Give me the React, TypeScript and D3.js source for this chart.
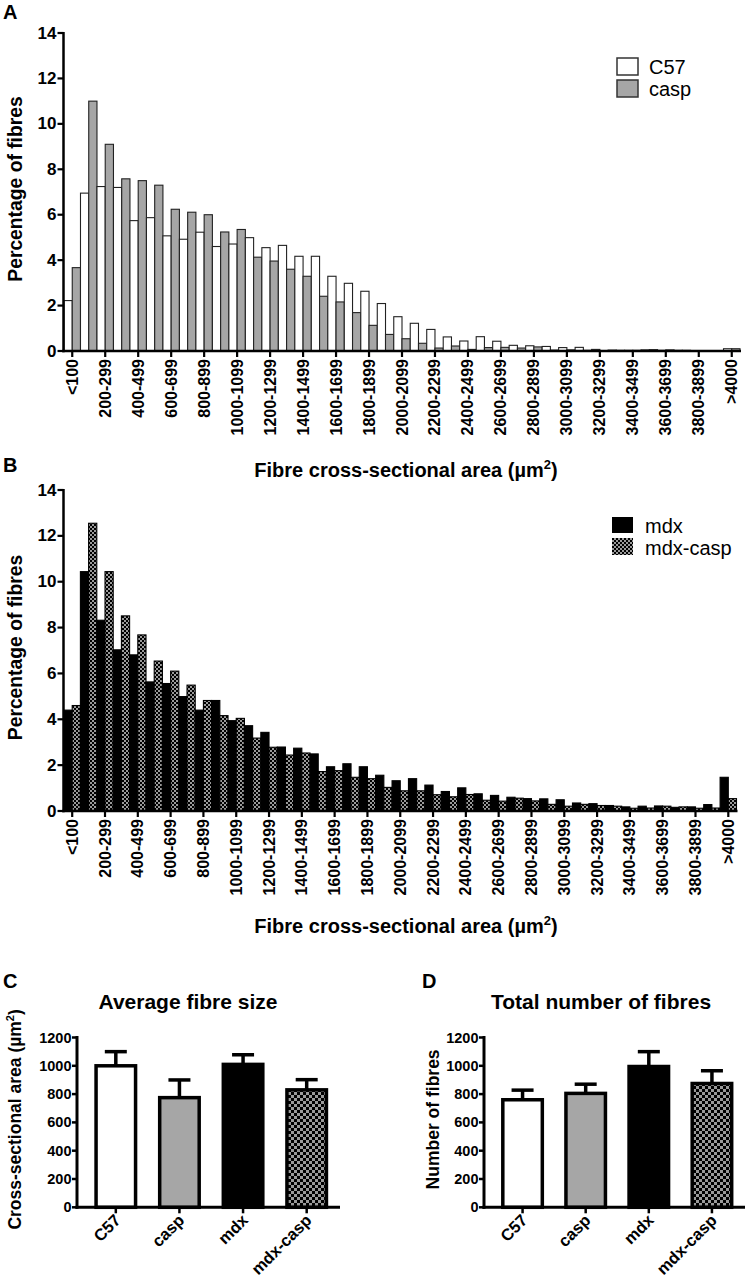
import React from "react";
import * as d3 from "d3";

const FONT = "'Liberation Sans', Arial, Helvetica, sans-serif";

// ---------- data ----------
const binLabels = [
  "<100", "100-199", "200-299", "300-399", "400-499", "500-599", "600-699", "700-799",
  "800-899", "900-999", "1000-1099", "1100-1199", "1200-1299", "1300-1399", "1400-1499",
  "1500-1599", "1600-1699", "1700-1799", "1800-1899", "1900-1999", "2000-2099", "2100-2199",
  "2200-2299", "2300-2399", "2400-2499", "2500-2599", "2600-2699", "2700-2799", "2800-2899",
  "2900-2999", "3000-3099", "3100-3199", "3200-3299", "3300-3399", "3400-3499", "3500-3599",
  "3600-3699", "3700-3799", "3800-3899", "3900-3999", ">4000",
];

const c57Pct = [
  2.22, 6.95, 7.24, 7.2, 5.74, 5.87, 5.07, 4.92, 5.23, 4.6, 4.71, 4.99, 4.55, 4.65, 4.17,
  4.17, 3.29, 2.98, 2.63, 2.09, 1.51, 1.22, 0.95, 0.62, 0.44, 0.63, 0.43, 0.25, 0.23, 0.2,
  0.15, 0.16, 0.07, 0.04, 0.03, 0.05, 0.03, 0.03, 0.02, 0.02, 0.1,
];
const caspPct = [
  3.67, 11.0, 9.1, 7.58, 7.5, 7.3, 6.24, 6.11, 6.0, 5.24, 5.35, 4.13, 3.96, 3.6, 3.29,
  2.41, 2.16, 1.69, 1.13, 0.73, 0.54, 0.34, 0.13, 0.22, 0.07, 0.15, 0.16, 0.13, 0.18, 0.04,
  0.05, 0.03, 0.02, 0.03, 0.03, 0.06, 0.05, 0.03, 0.02, 0.02, 0.1,
];
const mdxPct = [
  4.4, 10.44, 8.32, 7.03, 6.81, 5.63, 5.56, 4.99, 4.4, 4.82, 3.94, 3.72, 3.43, 2.79, 2.74,
  2.49, 1.93, 2.06, 1.93, 1.56, 1.32, 1.41, 1.13, 0.85, 1.01, 0.75, 0.68, 0.6, 0.54, 0.53,
  0.49, 0.35, 0.32, 0.24, 0.18, 0.21, 0.22, 0.16, 0.18, 0.28, 1.47,
];
const mdxCaspPct = [
  4.6, 12.55, 10.44, 8.51, 7.68, 6.54, 6.1, 5.49, 4.82, 4.16, 4.04, 3.18, 2.78, 2.44, 2.53,
  1.72, 1.76, 1.47, 1.41, 1.03, 0.88, 0.88, 0.71, 0.62, 0.72, 0.47, 0.43, 0.56, 0.44, 0.29,
  0.21, 0.29, 0.24, 0.21, 0.12, 0.13, 0.21, 0.18, 0.12, 0.13, 0.54,
];
const histTicks = [0, 2, 4, 6, 8, 10, 12, 14];

const groups = ["C57", "casp", "mdx", "mdx-casp"];
const avgSize = [1000, 775, 1010, 830];
const avgSizeSem = [100, 125, 68, 72];
const fibreCount = [760, 805, 995, 875];
const fibreCountSem = [68, 65, 105, 90];
const barTicks = [0, 200, 400, 600, 800, 1000, 1200];

// ---------- styles ----------
const GRAY = "#a6a6a6";
const groupFill: Record<string, string> = {
  C57: "#ffffff",
  casp: GRAY,
  mdx: "#000000",
  "mdx-casp": "url(#checkBig)",
};

type Series = { name: string; values: number[]; fill: string; stroke: string };

function AxisTitle({ x, y, size }: { x: number; y: number; size: number }) {
  return (
    <text x={x} y={y} textAnchor="middle" fontFamily={FONT} fontWeight="bold" fontSize={size}>
      Fibre cross-sectional area (µm
      <tspan fontSize={size * 0.65} dy={-size * 0.42}>2</tspan>
      <tspan dy={size * 0.42}>)</tspan>
    </text>
  );
}

function Histogram({
  top, bottom, left, right, series,
}: { top: number; bottom: number; left: number; right: number; series: Series[] }) {
  const y = d3.scaleLinear().domain([0, 14]).range([bottom, top]);
  const x0 = d3.scaleBand<string>().domain(binLabels).range([left, right]).padding(0);
  const x1 = d3
    .scaleBand<string>()
    .domain(series.map((s) => s.name))
    .range([0, x0.bandwidth()])
    .padding(0);
  const axisX = left - 0.5;
  return (
    <g>
      {binLabels.map((b, i) =>
        series.map((s) => {
          const v = s.values[i];
          return (
            <rect
              key={b + s.name}
              x={(x0(b) as number) + (x1(s.name) as number)}
              y={y(v)}
              width={x1.bandwidth()}
              height={bottom - y(v)}
              fill={s.fill}
              stroke={s.stroke}
              strokeWidth={1.1}
            />
          );
        })
      )}
      {/* y axis */}
      <line x1={axisX} x2={axisX} y1={top - 1} y2={bottom + 1.2} stroke="#000" strokeWidth={2.5} />
      {histTicks.map((t) => (
        <g key={t}>
          <line x1={axisX - 6} x2={axisX} y1={y(t)} y2={y(t)} stroke="#000" strokeWidth={2.2} />
          <text
            x={axisX - 7}
            y={y(t)}
            textAnchor="end"
            dominantBaseline="central"
            fontFamily={FONT}
            fontWeight="bold"
            fontSize={17}
          >
            {t}
          </text>
        </g>
      ))}
      {/* x axis */}
      <line x1={axisX - 1.2} x2={right + 1} y1={bottom} y2={bottom} stroke="#000" strokeWidth={2.5} />
      {binLabels.map((b, i) => {
        if (i % 2 !== 0) return null;
        const cx = (x0(b) as number) + x0.bandwidth() / 2;
        return (
          <g key={"t" + b}>
            <line x1={cx} x2={cx} y1={bottom} y2={bottom + 6} stroke="#000" strokeWidth={2.2} />
            <text
              transform={`translate(${cx},${bottom + 8}) rotate(-90)`}
              textAnchor="end"
              dominantBaseline="central"
              fontFamily={FONT}
              fontWeight="bold"
              fontSize={16}
            >
              {b}
            </text>
          </g>
        );
      })}
      <text
        transform={`translate(22,${(top + bottom) / 2 - 3}) rotate(-90)`}
        textAnchor="middle"
        fontFamily={FONT}
        fontWeight="bold"
        fontSize={19.3}
      >
        Percentage of fibres
      </text>
    </g>
  );
}

function BarPanel({
  left, right, top, bottom, values, sems, title, titleX, yTitle, yTitleX,
}: {
  left: number; right: number; top: number; bottom: number; values: number[]; sems: number[];
  title: string; titleX: number; yTitle: React.ReactNode; yTitleX: number;
}) {
  const y = d3.scaleLinear().domain([0, 1200]).range([bottom, top]);
  const x = d3.scaleBand<string>().domain(groups).range([left + 7, right - 1.5]).padding(0);
  const bw = 39.5;
  const axisX = left;
  return (
    <g>
      <text x={titleX} y={1009} textAnchor="middle" fontFamily={FONT} fontWeight="bold" fontSize={21}>
        {title}
      </text>
      {groups.map((g, i) => {
        const cx = (x(g) as number) + x.bandwidth() / 2;
        const v = values[i];
        const e = v + sems[i];
        return (
          <g key={g}>
            <line x1={cx} x2={cx} y1={y(v)} y2={y(e)} stroke="#000" strokeWidth={3.5} />
            <line x1={cx - 11} x2={cx + 11} y1={y(e)} y2={y(e)} stroke="#000" strokeWidth={3.5} />
            <rect
              x={cx - bw / 2}
              y={y(v)}
              width={bw}
              height={bottom - y(v)}
              fill={groupFill[g]}
              stroke="#000"
              strokeWidth={3.5}
            />
          </g>
        );
      })}
      <line x1={axisX} x2={axisX} y1={top - 1.5} y2={bottom + 1.5} stroke="#000" strokeWidth={3} />
      {barTicks.map((t) => (
        <g key={t}>
          <line x1={axisX - 5} x2={axisX} y1={y(t)} y2={y(t)} stroke="#000" strokeWidth={2.5} />
          <text
            x={axisX - 5.5}
            y={y(t)}
            textAnchor="end"
            dominantBaseline="central"
            fontFamily={FONT}
            fontWeight="bold"
            fontSize={14.5}
          >
            {t}
          </text>
        </g>
      ))}
      <line x1={axisX - 1.5} x2={right} y1={bottom} y2={bottom} stroke="#000" strokeWidth={3} />
      {groups.map((g) => {
        const cx = (x(g) as number) + x.bandwidth() / 2;
        return (
          <g key={"x" + g}>
            <line x1={cx} x2={cx} y1={bottom} y2={bottom + 6} stroke="#000" strokeWidth={2.5} />
            <text
              transform={`translate(${cx + 6},${bottom + 14}) rotate(-45)`}
              textAnchor="end"
              fontFamily={FONT}
              fontWeight="bold"
              fontSize={16.5}
            >
              {g}
            </text>
          </g>
        );
      })}
      <text
        transform={`translate(${yTitleX},${(top + bottom) / 2 - 3}) rotate(-90)`}
        textAnchor="middle"
        fontFamily={FONT}
        fontWeight="bold"
        fontSize={17.5}
      >
        {yTitle}
      </text>
    </g>
  );
}

export default function App() {
  const seriesA: Series[] = [
    { name: "C57", values: c57Pct, fill: "#ffffff", stroke: "#222" },
    { name: "casp", values: caspPct, fill: GRAY, stroke: "#222" },
  ];
  const seriesB: Series[] = [
    { name: "mdx", values: mdxPct, fill: "#000000", stroke: "#000" },
    { name: "mdx-casp", values: mdxCaspPct, fill: "url(#checkSmall)", stroke: "#000" },
  ];
  const label = (t: string, x: number, y: number) => (
    <text x={x} y={y} fontFamily={FONT} fontWeight="bold" fontSize={20}>
      {t}
    </text>
  );
  return (
    <svg
      width={751}
      height={1282}
      viewBox="0 0 751 1282"
      style={{ position: "absolute", left: 0, top: 0, background: "#fff" }}
    >
      <defs>
        <pattern id="checkSmall" patternUnits="userSpaceOnUse" width={4} height={4}>
          <rect width={4} height={4} fill="#000" />
          <rect x={0} y={0} width={2} height={2} fill="#9a9a9a" />
          <rect x={2} y={2} width={2} height={2} fill="#9a9a9a" />
        </pattern>
        <pattern id="checkBig" patternUnits="userSpaceOnUse" width={6} height={6}>
          <rect width={6} height={6} fill="#000" />
          <rect x={0} y={0} width={3} height={3} fill="#9a9a9a" />
          <rect x={3} y={3} width={3} height={3} fill="#9a9a9a" />
        </pattern>
      </defs>
      <rect width={751} height={1282} fill="#fff" />

      {/* Panel A */}
      {label("A", 3, 19)}
      <Histogram top={33} bottom={351} left={64} right={740} series={seriesA} />
      <AxisTitle x={406} y={477} size={20} />
      <rect x={617} y={58} width={21} height={17} fill="#fff" stroke="#333" strokeWidth={1.5} />
      <rect x={617} y={80} width={21} height={17} fill={GRAY} stroke="#333" strokeWidth={1.5} />
      <text x={649} y={74} fontFamily={FONT} fontSize={20}>C57</text>
      <text x={649} y={96} fontFamily={FONT} fontSize={20}>casp</text>

      {/* Panel B */}
      {label("B", 3, 472)}
      <Histogram top={490} bottom={811} left={64} right={736.5} series={seriesB} />
      <AxisTitle x={406} y={933} size={20} />
      <rect x={612} y={517} width={21} height={16} fill="#000" />
      <rect x={612} y={538} width={21} height={17} fill="url(#checkSmall)" />
      <text x={645} y={533} fontFamily={FONT} fontSize={20}>mdx</text>
      <text x={645} y={555} fontFamily={FONT} fontSize={20}>mdx-casp</text>

      {/* Panel C */}
      {label("C", 3, 988)}
      <BarPanel
        left={77}
        right={340}
        top={1037.5}
        bottom={1207.3}
        values={avgSize}
        sems={avgSizeSem}
        title="Average fibre size"
        titleX={188}
        yTitleX={21}
        yTitle={
          <>
            Cross-sectional area (µm
            <tspan fontSize={11} dy={-7}>2</tspan>
            <tspan dy={7}>)</tspan>
          </>
        }
      />

      {/* Panel D */}
      {label("D", 422, 988)}
      <BarPanel
        left={484}
        right={745}
        top={1037.5}
        bottom={1207.3}
        values={fibreCount}
        sems={fibreCountSem}
        title="Total number of fibres"
        titleX={601}
        yTitleX={439}
        yTitle={<>Number of fibres</>}
      />
    </svg>
  );
}
